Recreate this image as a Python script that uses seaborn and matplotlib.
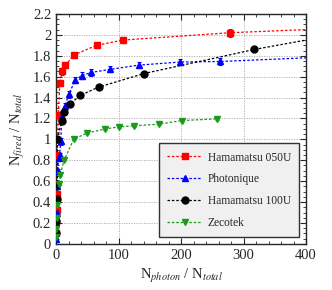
import numpy as np
import matplotlib
matplotlib.use("Agg")
import matplotlib.pyplot as plt
from matplotlib.lines import Line2D
from matplotlib.ticker import MultipleLocator
import seaborn as sns

# data
ham050_x = [0.3, 0.5, 0.8, 1.2, 2, 3.5, 6, 10, 15, 29, 65, 107, 278]
ham050_y = [0.10, 0.21, 0.32, 0.48, 0.85, 1.23, 1.54, 1.65, 1.71, 1.81, 1.90, 1.95, 2.02]
ham050_err = [0.01, 0.01, 0.01, 0.02, 0.02, 0.03, 0.03, 0.03, 0.03, 0.03, 0.03, 0.03, 0.04]
ham050_end = 2.05

photo_x = [0.2, 0.4, 0.7, 1.0, 1.5, 2.5, 4, 5.5, 7.5, 9, 14.5, 20, 31, 41, 56, 87, 132, 199, 263]
photo_y = [0.05, 0.20, 0.30, 0.43, 0.55, 0.70, 0.82, 0.85, 0.98, 1.22, 1.32, 1.43, 1.57, 1.61, 1.64, 1.67, 1.71, 1.74, 1.745]
photo_err = [0.01, 0.01, 0.01, 0.01, 0.02, 0.02, 0.02, 0.02, 0.03, 0.03, 0.03, 0.03, 0.03, 0.03, 0.03, 0.03, 0.03, 0.03, 0.03]
photo_end = 1.78

ham100_x = [0.3, 0.6, 1.0, 1.5, 2, 9, 12, 22.5, 38.5, 68, 141, 317]
ham100_y = [0.10, 0.22, 0.43, 0.57, 1.00, 1.18, 1.26, 1.34, 1.42, 1.50, 1.63, 1.86]
ham100_err = [0.01] * 12
ham100_end = 1.95

zeco_x = [0.3, 0.5, 0.8, 1.2, 4, 6.4, 12.8, 28, 49, 79, 101, 125, 164, 201, 258]
zeco_y = [0.07, 0.14, 0.25, 0.37, 0.57, 0.66, 0.80, 1.00, 1.06, 1.10, 1.12, 1.13, 1.145, 1.18, 1.196]
zeco_err = [0.01] * 15

labels = ["Hamamatsu 050U", "Photonique", "Hamamatsu 100U", "Zecotek"]
colors = ["#ff0000", "#0000ff", "#000000", "#1a9a1a"]
markers = ["s", "^", "o", "v"]

sns.set_style("ticks")
plt.rcParams["font.family"] = ["Liberation Serif", "DejaVu Serif"]
plt.rcParams["mathtext.fontset"] = "stix"

fig = plt.figure(figsize=(3.32, 2.9), dpi=100)
ax = fig.add_axes([0.169, 0.159, 0.753, 0.793])

series = [
    (ham050_x, ham050_y, ham050_err, ham050_end),
    (photo_x, photo_y, photo_err, photo_end),
    (ham100_x, ham100_y, ham100_err, ham100_end),
    (zeco_x, zeco_y, zeco_err, None),
]

handles = []
for (sx, sy, se, end), lab, c, m in zip(series, labels, colors, markers):
    cx = [0] + list(sx)
    cy = [0] + list(sy)
    if end is not None:
        cx.append(400)
        cy.append(end)
    sns.lineplot(x=cx, y=cy, ax=ax, color=c, linestyle=(0, (2, 1.5)),
                 linewidth=0.9, sort=False, estimator=None)
    ax.errorbar(sx, sy, yerr=se, fmt=m, color=c, ms=5, mec=c,
                elinewidth=0.8, capsize=1.5, capthick=0.8, zorder=3)
    handles.append(Line2D([], [], color=c, marker=m, ms=5,
                          linestyle=(0, (2, 1.5)), linewidth=0.9))

ax.set_xlim(0, 400)
ax.set_ylim(0, 2.2)
ax.xaxis.set_major_locator(MultipleLocator(100))
ax.xaxis.set_minor_locator(MultipleLocator(20))
ax.yaxis.set_major_locator(MultipleLocator(0.2))
ax.yaxis.set_minor_locator(MultipleLocator(0.05))
ax.yaxis.set_major_formatter(plt.FuncFormatter(lambda v, p: f"{v:g}"))
ax.tick_params(which="both", direction="in", top=True, right=True,
               labelsize=10.5)
ax.tick_params(which="major", length=4)
ax.tick_params(which="minor", length=2)
ax.grid(True, which="major", color="#aaaaaa", linestyle=(0, (1.5, 1.5)),
        linewidth=0.6)
for s in ax.spines.values():
    s.set_linewidth(1.0)

ax.set_xlabel(r"N$_{\mathit{photon}}$ / N$_{\mathit{total}}$", fontsize=10.5)
ax.set_ylabel(r"N$_{\mathit{fired}}$ / N$_{\mathit{total}}$", fontsize=10.5)

leg = ax.legend(handles, labels, loc="lower right", fontsize=8.3,
                frameon=True, fancybox=False, facecolor="#f0f0f0",
                edgecolor="#333333", framealpha=1, handlelength=3.0,
                handletextpad=0.5, borderpad=0.7, labelspacing=0.85,
                borderaxespad=0.6)

fig.savefig("out.png", dpi=100)
